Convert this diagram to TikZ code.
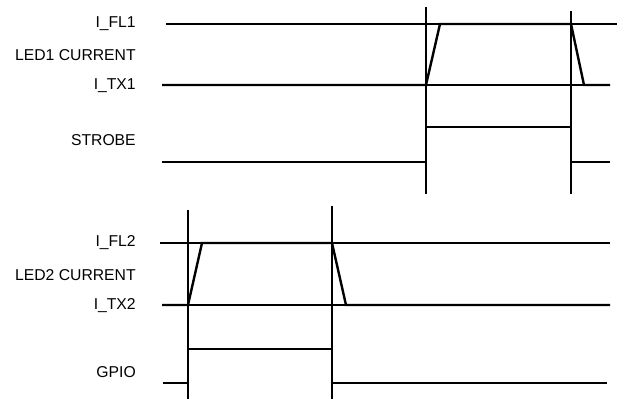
\documentclass[tikz,border=0pt]{standalone}
\usepackage{fontspec}
\setmainfont{Liberation Sans}
\usepackage{tikz}

\begin{document}
\begin{tikzpicture}[x=0.75pt,y=-0.75pt,
	refline/.style={line width=0.8pt},
	wave/.style={line width=1.8pt, line join=miter},
	marker/.style={line width=0.8pt},
	lbl/.style={anchor=east, inner sep=0pt, font=\fontsize{11.8}{13}\selectfont}]
		%%%%% START %%%%%
		\useasboundingbox (0, 0) rectangle (619, 399);
		
		% labels
		\node[lbl] (fl1) at (136, 24) {I\_FL1};
		\node[lbl] (led1) at (136, 55) {LED1 CURRENT};
		\node[lbl] (tx1) at (136, 86) {I\_TX1};
		\node[lbl] (strobe) at (136, 140) {STROBE};
		\node[lbl] (fl2) at (136, 243) {I\_FL2};
		\node[lbl] (led2) at (136, 275) {LED2 CURRENT};
		\node[lbl] (tx2) at (136, 306) {I\_TX2};
		\node[lbl] (gpio) at (136, 372) {GPIO};
		
		% LED1 / STROBE
		\draw[marker] (426, 7) -- (426, 194);
		\draw[marker] (571, 11) -- (571, 194);
		\draw[refline] (166, 24) -- (617, 24);
		\draw[refline] (426, 85) -- (610, 85);
		\draw[wave] (162, 85) -- (426, 85) -- (440, 24) -- (571, 24) -- (584, 85) -- (610, 85);
		\draw[wave] (162, 162) -- (426, 162) -- (426, 127) -- (571, 127) -- (571, 162) -- (610, 162);
		
		% LED2 / GPIO
		\draw[marker] (188, 210) -- (188, 399);
		\draw[marker] (332, 206) -- (332, 399);
		\draw[refline] (160, 243) -- (610, 243);
		\draw[refline] (188, 305) -- (346, 305);
		\draw[wave] (162, 305) -- (188, 305) -- (202, 243) -- (332, 243) -- (346, 305) -- (610, 305);
		\draw[wave] (163, 383) -- (188, 383) -- (188, 349) -- (332, 349) -- (332, 383) -- (607, 383);
		%%%%% END %%%%%
	\end{tikzpicture}
\end{document}
